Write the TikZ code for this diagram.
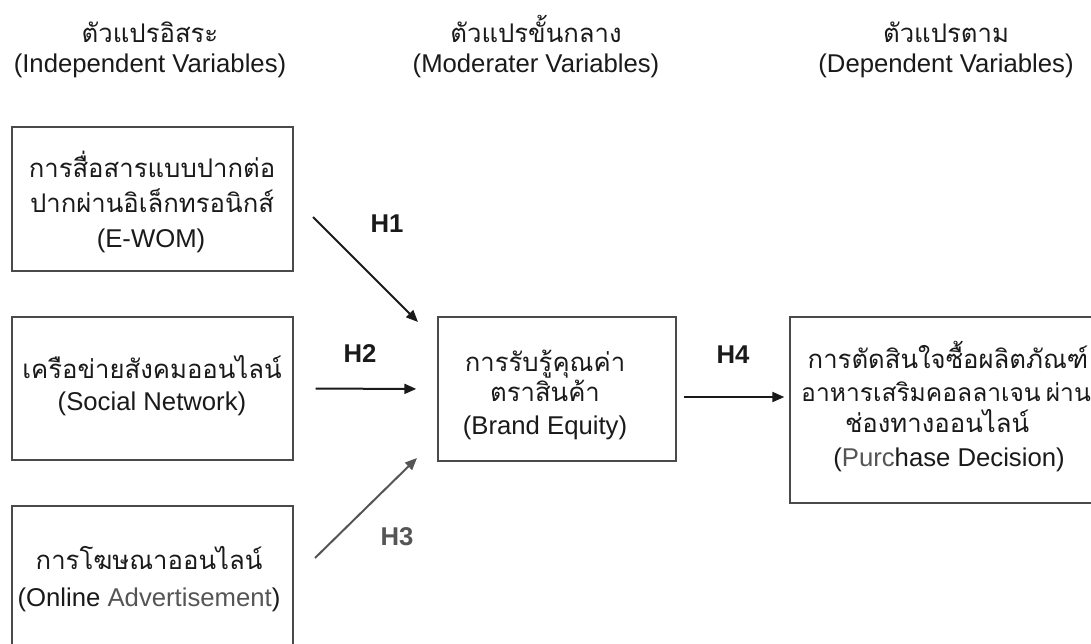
\documentclass[tikz,border=0pt]{standalone}
\usepackage{fontspec}
\setmainfont{Liberation Sans}
\newfontfamily\thaifont[Script=Thai]{Loma}
\usetikzlibrary{arrows.meta,calc}
\definecolor{ink}{HTML}{1A1A1A}
\definecolor{frame}{HTML}{4A4A4A}
\definecolor{soft}{HTML}{555555}
\begin{document}
\begin{tikzpicture}[x=1pt,y=-1pt,
  box/.style={draw=frame, line width=1.4pt, inner sep=0pt},
  lat/.style={font=\fontsize{25.7}{30}\selectfont, text=ink, inner sep=0pt, anchor=base},
  tha/.style={font=\thaifont\fontsize{25.7}{30}\selectfont, text=ink, inner sep=0pt, anchor=base},
  hyp/.style={font=\bfseries\fontsize{25.7}{30}\selectfont, text=ink, inner sep=0pt},
  arr/.style={draw=ink, line width=2pt, -{Triangle[length=12pt,width=10pt]}}]
\useasboundingbox (0,0) rectangle (1091,643);
\clip (0,0) rectangle (1091,643);
\fill[white] (0,0) rectangle (1091,643);

% headers
\node[tha] (h1a) at (150,42) {ตัวแปรอิสระ};
\node[lat] (h1b) at (150,72) {(Independent Variables)};
\node[tha] (h2a) at (536,42) {ตัวแปรขั้นกลาง};
\node[lat] (h2b) at (536,72) {(Moderater Variables)};
\node[tha] (h3a) at (946,42) {ตัวแปรตาม};
\node[lat] (h3b) at (946,72) {(Dependent Variables)};

% boxes
\node[box, minimum width=281pt, minimum height=144pt] (b1) at (152.5,199) {};
\node[box, minimum width=281pt, minimum height=143pt] (b2) at (152.5,388.5) {};
\node[box, minimum width=281pt, minimum height=158pt] (b3) at (152.5,585) {};
\node[box, minimum width=238pt, minimum height=144pt] (be) at (557,389) {};
\node[box, minimum width=312pt, minimum height=186pt] (pd) at (946,410) {};

% box texts
\node[tha] (t11) at (152,177) {การสื่อสารแบบปากต่อ};
\node[tha] (t12) at (152,212) {ปากผ่านอิเล็กทรอนิกส์};
\node[lat] (t13) at (151,247) {(E-WOM)};
\node[tha] (t21) at (152,378) {เครือข่ายสังคมออนไลน์};
\node[lat] (t22) at (152,410) {(Social Network)};
\node[tha] (t31) at (149,569) {การโฆษณาออนไลน์};
\node[lat] (t32) at (149,606) {(Online \textcolor{soft}{Advertisement})};
\node[tha] (te1) at (545,371) {การรับรู้คุณค่า};
\node[tha] (te2) at (545,401) {ตราสินค้า};
\node[lat] (te3) at (545,434) {(Brand Equity)};
\node[tha] (tp1) at (948,368) {การตัดสินใจซื้อผลิตภัณฑ์};
\node[tha, font=\thaifont\fontsize{24.6}{30}\selectfont] (tp2) at (946,401) {อาหารเสริมคอลลาเจน\hspace{5pt}ผ่าน};
\node[tha] (tp3) at (937,432) {ช่องทางออนไลน์};
\node[lat] (tp4) at (949,466) {(\textcolor{soft}{Purc}hase Decision)};

% arrows
\coordinate (a1s) at (313,217);
\coordinate (a1e) at (418,322);
\draw[arr] (a1s) -- (a1e);
\draw[arr, shorten <=22pt, shorten >=21pt] (b2.east) -- (be.west);
\coordinate (a3s) at (315,558);
\coordinate (a3e) at (417,458);
\draw[arr, draw=soft, -{Triangle[length=12pt,width=10pt,fill=soft]}] (a3s) -- (a3e);
\draw[arr] ($(be.east)+(7,8)$) -- ($(pd.west)+(-5,-13)$);

% hypothesis labels
\node[hyp] (l1) at (387,224) {H1};
\node[hyp] (l2) at (360,354) {H2};
\node[hyp, text=soft] (l3) at (397,537) {H3};
\node[hyp] (l4) at (733,355) {H4};
\end{tikzpicture}
\end{document}
